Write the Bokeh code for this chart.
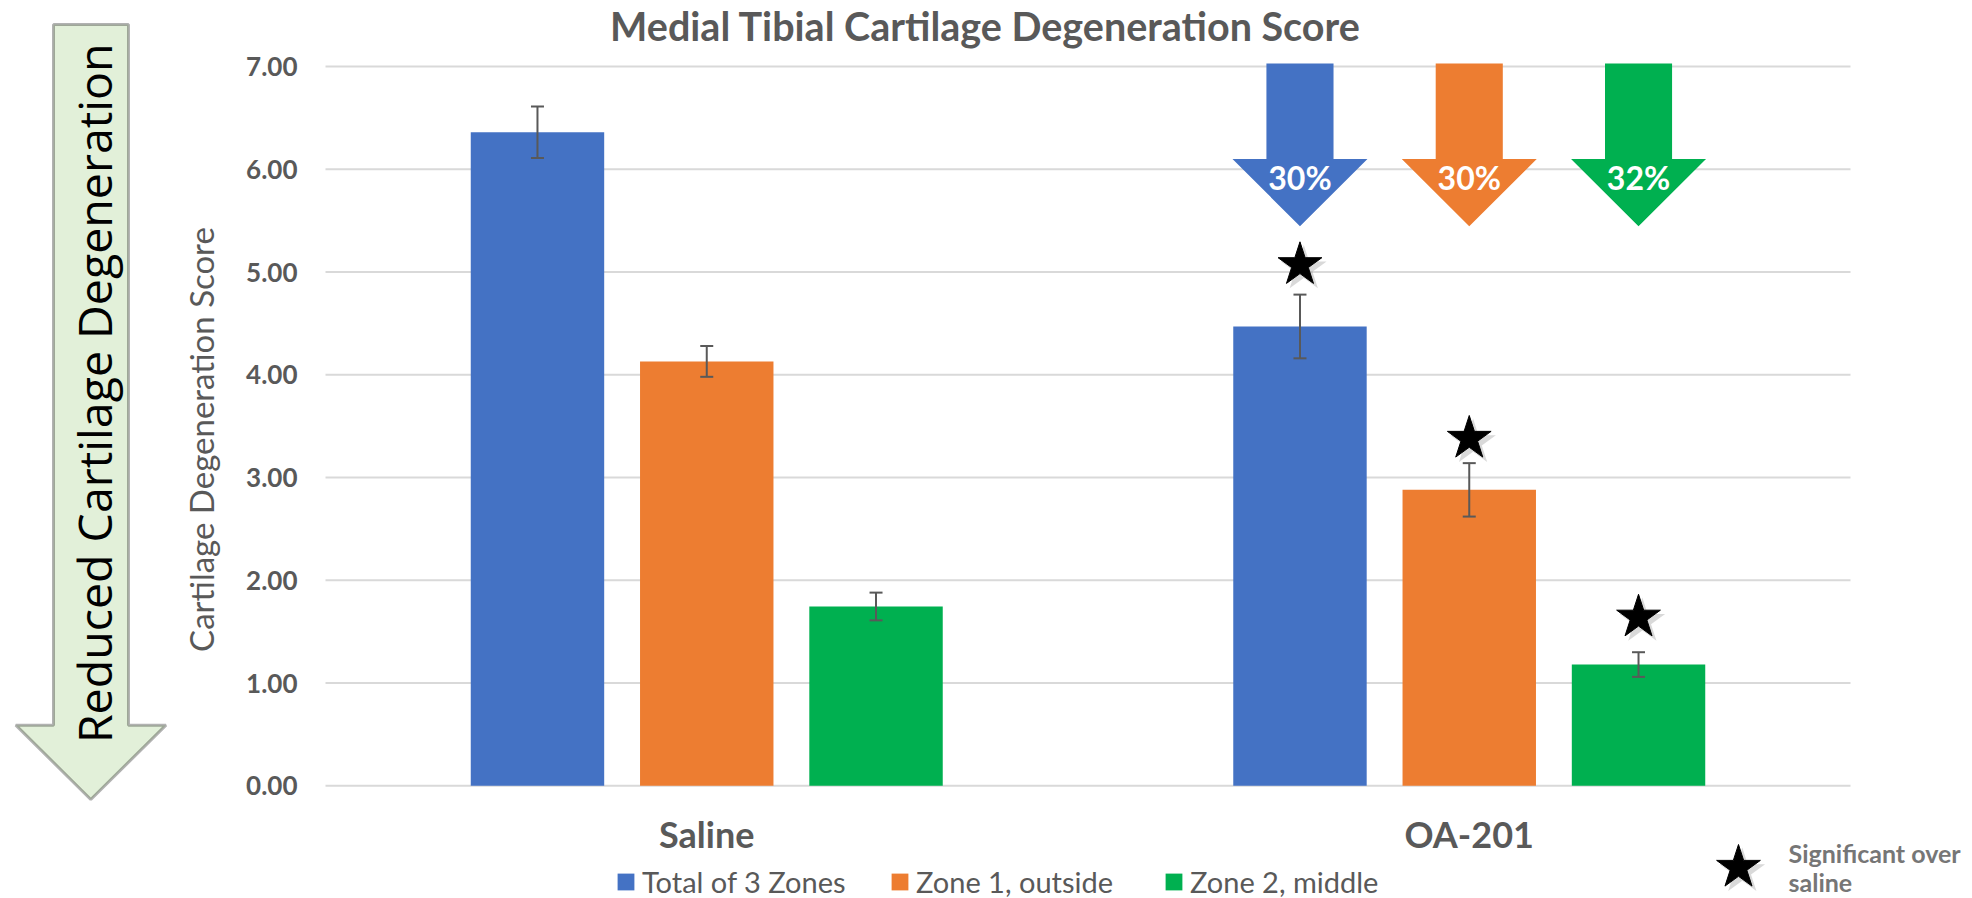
from math import pi
from bokeh.plotting import figure
from bokeh.models import (Range1d, FixedTicker, ColumnDataSource, Label,
                          PolyAnnotation, Legend, LegendItem, PrintfTickFormatter)
from bokeh.core.properties import value
from bokeh.transform import dodge
from bokeh.embed import file_html
from bokeh.resources import INLINE

# ---------------- data ----------------
groups = ["Saline", "OA-201"]
series = ["Total of 3 Zones", "Zone 1, outside", "Zone 2, middle"]
total = [6.36, 4.47]
zone1 = [4.13, 2.88]
zone2 = [1.745, 1.18]
total_err = [0.25, 0.31]
zone1_err = [0.15, 0.26]
zone2_err = [0.135, 0.12]
reduction_labels = ["30%", "30%", "32%"]
star_y = [5.07, 3.38, 1.64]          # significance markers above OA-201 bars
y_ticks = [0, 1, 2, 3, 4, 5, 6, 7]
title_text = "Medial Tibial Cartilage Degeneration Score"
y_label = "Cartilage Degeneration Score"
side_text = "Reduced Cartilage Degeneration"
sig_lines = ["Significant over", "saline"]

# ---------------- style ----------------
colors = ["#4472C4", "#ED7D31", "#00B050"]
GREY = "#595959"
ERR = "#595959"
offsets = [-0.222, 0.0, 0.222]
BAR_W = 0.175
FONT = "Lato"

group_x = [i + 0.5 for i in range(len(groups))]

W, H = 1972, 898
p = figure(width=W, height=H, output_backend="svg", toolbar_location=None,
           x_range=Range1d(-0.42623, 2.16), y_range=Range1d(-1.0967, 7.6421),
           min_border=0, min_border_left=0, min_border_right=0,
           min_border_top=0, min_border_bottom=0)
p.title.text = ""
p.title.visible = False
p.outline_line_color = None
p.background_fill_color = "white"
p.border_fill_color = "white"
p.xgrid.visible = False
p.ygrid.visible = False

# horizontal gridlines across the plot area (x from 0 to number of groups)
p.segment(x0=[0] * len(y_ticks), x1=[len(groups)] * len(y_ticks), y0=y_ticks, y1=y_ticks,
          line_color="#D9D9D9", line_width=2)

ya = p.yaxis[0]
ya.fixed_location = 0
ya.bounds = (-0.26, 7.0)
ya.ticker = FixedTicker(ticks=y_ticks)
ya.formatter = PrintfTickFormatter(format="%.2f")
ya.axis_line_color = None
ya.major_tick_line_color = None
ya.minor_tick_line_color = None
ya.major_tick_out = 0
ya.major_tick_in = 0
ya.major_label_standoff = 28
ya.major_label_text_font = FONT
ya.major_label_text_font_style = "bold"
ya.major_label_text_font_size = "26px"
ya.major_label_text_color = GREY
ya.axis_label = y_label
ya.axis_label_standoff = 22
ya.axis_label_text_font = FONT
ya.axis_label_text_font_style = "normal"
ya.axis_label_text_font_size = "33px"
ya.axis_label_text_color = GREY

xa = p.xaxis[0]
xa.fixed_location = 0
xa.ticker = FixedTicker(ticks=group_x)
xa.major_label_overrides = {gx: g for gx, g in zip(group_x, groups)}
xa.axis_line_color = None
xa.major_tick_line_color = None
xa.minor_tick_line_color = None
xa.major_tick_out = 0
xa.major_tick_in = 0
xa.major_label_standoff = 26
xa.major_label_text_font = FONT
xa.major_label_text_font_style = "bold"
xa.major_label_text_font_size = "36px"
xa.major_label_text_color = GREY

# ---------------- bars + error bars ----------------
means = [total, zone1, zone2]
errs = [total_err, zone1_err, zone2_err]
bar_renderers = []
for i in range(3):
    src = ColumnDataSource(dict(
        gx=group_x, top=means[i],
        lo=[m - e for m, e in zip(means[i], errs[i])],
        hi=[m + e for m, e in zip(means[i], errs[i])]))
    xd = dodge("gx", offsets[i])
    r = p.vbar(x=xd, top="top", bottom=0, width=BAR_W, source=src,
               fill_color=colors[i], line_color=None)
    bar_renderers.append(r)
    p.segment(x0=xd, x1=xd, y0="lo", y1="hi", source=src, line_color=ERR, line_width=2)
    p.scatter(x=xd, y="hi", source=src, marker="dash", size=13, line_color=ERR, line_width=2)
    p.scatter(x=xd, y="lo", source=src, marker="dash", size=13, line_color=ERR, line_width=2)

# ---------------- reduction arrows over OA-201 ----------------
oa_center = group_x[groups.index("OA-201")]
arrow_top, head_base, head_tip = 7.03, 6.10, 5.445
shaft_hw, head_hw = 0.044, 0.0885
axs, ays, acx = [], [], []
for off in offsets:
    c = oa_center + off
    acx.append(c)
    axs.append([c - shaft_hw, c + shaft_hw, c + shaft_hw, c + head_hw, c, c - head_hw, c - shaft_hw])
    ays.append([arrow_top, arrow_top, head_base, head_base, head_tip, head_base, head_base])
p.patches(xs=axs, ys=ays, fill_color=colors, line_color=None)
p.text(x=acx, y=[5.92] * 3, text=reduction_labels, text_color="white",
       text_font=value(FONT), text_font_style="bold", text_font_size="32px",
       text_align="center", text_baseline="middle")

# ---------------- significance stars ----------------
p.scatter(x=[c + 0.005 for c in acx], y=[v - 0.04 for v in star_y], marker="star", size=48,
          fill_color="#808080", fill_alpha=0.3, line_color=None)
p.scatter(x=acx, y=star_y, marker="star", size=46, fill_color="black", line_color="black")

# ---------------- title ----------------
p.add_layout(Label(x=0.8656, y=7.394, text=title_text, text_font=FONT, text_font_style="bold",
                   text_font_size="39.5px", text_color=GREY, text_align="center",
                   text_baseline="middle"))

# ---------------- left big arrow ----------------
p.add_layout(PolyAnnotation(
    xs=[-0.3567, -0.2584, -0.2584, -0.2092, -0.3078, -0.4062, -0.3567],
    ys=[7.408, 7.408, 0.590, 0.590, -0.133, 0.590, 0.590],
    xs_units="data", ys_units="data",
    fill_color="#E2F0D9", fill_alpha=1.0, line_color="black", line_width=3))
p.add_layout(Label(x=-0.304, y=3.82, text=side_text, angle=pi / 2, text_font="Open Sans",
                   text_font_size="46.5px", text_color="black", text_align="center",
                   text_baseline="middle"))

# ---------------- legend ----------------
legend = Legend(items=[LegendItem(label=s, renderers=[r]) for s, r in zip(series, bar_renderers)],
                orientation="horizontal", location=(615, -1), padding=0, margin=0,
                glyph_width=21, glyph_height=21, label_standoff=6, label_width=229, spacing=18,
                label_text_font=FONT, label_text_font_size="29px", label_text_color=GREY,
                border_line_color=None, background_fill_alpha=0)
p.add_layout(legend, "center")

# significance key
p.scatter(x=[1.8581], y=[-0.835], marker="star", size=48,
          fill_color="#808080", fill_alpha=0.3, line_color=None)
p.scatter(x=[1.8531], y=[-0.795], marker="star", size=46, fill_color="black", line_color="black")
p.add_layout(Label(x=1.9187, y=-0.654, text=sig_lines[0], text_font=FONT, text_font_style="bold",
                   text_font_size="25px", text_color="#767676", text_baseline="middle"))
p.add_layout(Label(x=1.9187, y=-0.940, text=sig_lines[1], text_font=FONT, text_font_style="bold",
                   text_font_size="25px", text_color="#767676", text_baseline="middle"))

open("out.html", "w").write(file_html(p, INLINE))
